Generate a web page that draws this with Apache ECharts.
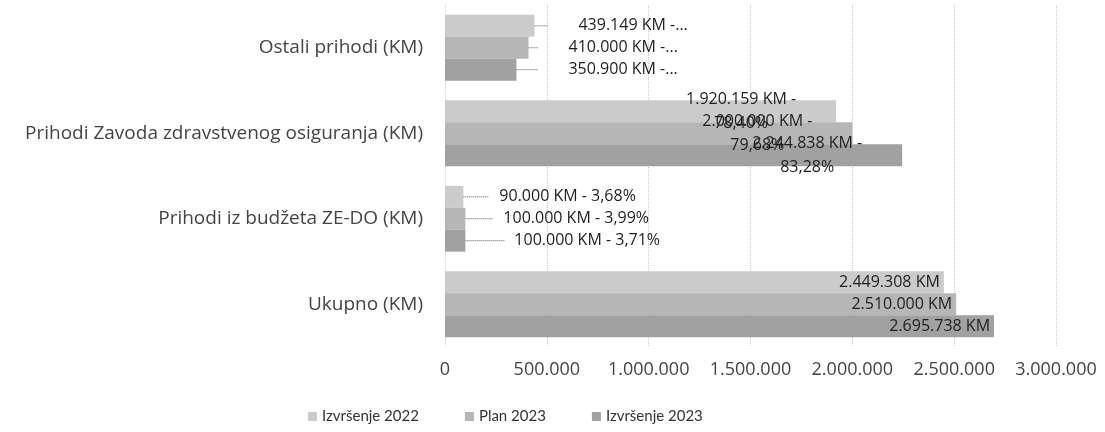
<!DOCTYPE html>
<html>
<head>
<meta charset="utf-8">
<script src="https://cdn.jsdelivr.net/npm/echarts@6/dist/echarts.min.js"></script>
<style>
  html, body { margin: 0; padding: 0; background: #fff; }
  #chart { width: 1105px; height: 432px; }
</style>
</head>
<body>
<div id="chart"></div>
<script>
// categories top -> bottom (yAxis inverse)
const categories = [
  'Ostali prihodi (KM)',
  'Prihodi Zavoda zdravstvenog osiguranja (KM)',
  'Prihodi iz budžeta ZE-DO (KM)',
  'Ukupno (KM)'
]
const seriesNames = ['Izvršenje 2022', 'Plan 2023', 'Izvršenje 2023']

const izvrsenje2022 = [439149, 1920159, 90000, 2449308]
const plan2023 = [410000, 2000000, 100000, 2510000]
const izvrsenje2023 = [350900, 2244838, 100000, 2695738]

// percentage parts of the labels as shown ('...' = cut off)
const pct2022 = ['...', '78,40%', '3,68%', '']
const pct2023Plan = ['...', '79,68%', '3,99%', '']
const pct2023 = ['...', '83,28%', '3,71%', '']

const colors = ['#cbcbcb', '#b6b6b6', '#a1a1a1']
// label shifts per series: [ostali, budzet]
const leaderDx = [[10, 22], [6, 24], [18, 35]]

const fmtNum = (v) => String(v).replace(/\B(?=(\d{3})+(?!\d))/g, '.')
const guide = { show: true, lineStyle: { color: '#555', width: 1, type: 'dotted' } }

const buildData = (values, pcts) => values.map((v, i) => {
  const item = { value: v }
  if (i === 0) {
    item.label = { position: 'right', distance: 4, formatter: '{g| }' + fmtNum(v) + ' KM -' + pcts[i] }
    item.labelLine = guide
  } else if (i === 2) {
    item.label = { position: 'right', distance: 4, formatter: '{h| }' + fmtNum(v) + ' KM - ' + pcts[i] }
    item.labelLine = guide
  } else if (i === 1) {
    item.label = {
      position: 'insideRight', distance: 0, align: 'center',
      lineHeight: 24,
      formatter: fmtNum(v) + ' KM -\n' + pcts[i]
    }
  } else {
    item.label = { position: 'insideRight', distance: 4, formatter: fmtNum(v) + ' KM' }
  }
  return item
})

const allPcts = [pct2022, pct2023Plan, pct2023]
const allValues = [izvrsenje2022, plan2023, izvrsenje2023]

const option = {
  animation: false,
  textStyle: { fontFamily: '"Open Sans", sans-serif' },
  grid: { left: 445, right: 49, top: 5, bottom: 85 },
  legend: {
    left: 303,
    top: 404,
    itemWidth: 9,
    itemHeight: 9,
    itemGap: 46,
    icon: 'rect',
    textStyle: { color: '#333', fontSize: 15, fontFamily: 'Lato, sans-serif' },
    data: seriesNames
  },
  xAxis: {
    type: 'value',
    min: 0,
    max: 3000000,
    interval: 500000,
    axisLine: { show: false },
    axisTick: { show: false },
    axisLabel: {
      color: '#444',
      fontSize: 18,
      margin: 14,
      formatter: (v) => fmtNum(v)
    },
    splitLine: { lineStyle: { color: '#c8c8c8', type: 'dotted', width: 1 } }
  },
  yAxis: {
    type: 'category',
    inverse: true,
    data: categories,
    axisLine: { show: true, lineStyle: { color: '#e4e4e4', type: 'dotted' } },
    axisTick: { show: false },
    axisLabel: { color: '#444', fontSize: 19, margin: 22 }
  },
  series: seriesNames.map((name, si) => ({
    name,
    type: 'bar',
    barGap: '0%',
    barCategoryGap: '23%',
    itemStyle: { color: colors[si] },
    label: {
      show: true, color: '#1e1e1e', fontSize: 16,
      rich: { g: { width: 30 }, h: { width: 10 } }
    },
    labelLayout: (p) => {
      if (p.dataIndex === 0) return { dx: leaderDx[si][0] }
      if (p.dataIndex === 2) return { dx: leaderDx[si][1] }
      if (p.dataIndex === 1) return { dx: -95 }
      return {}
    },
    data: buildData(allValues[si], allPcts[si])
  }))
}

const chart = echarts.init(document.getElementById('chart'))
chart.setOption(option)
window.addEventListener('resize', function () {
  chart.resize()
})
</script>
</body>
</html>
